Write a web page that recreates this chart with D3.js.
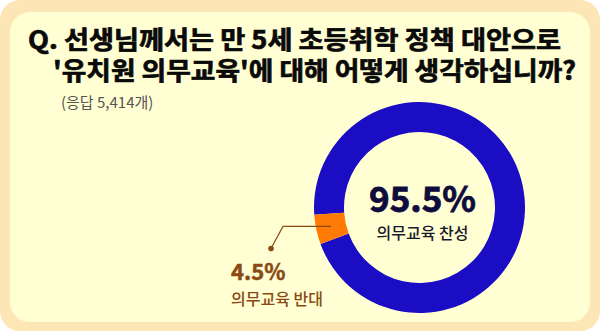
<!DOCTYPE html>
<html>
<head>
<meta charset="utf-8">
<script src="https://cdn.jsdelivr.net/npm/d3@7"></script>
<style>
  html, body { margin: 0; padding: 0; background: #ffffff; }
  svg { display: block; }
  text { font-family: "Noto Sans CJK KR", "Noto Sans", sans-serif; }
</style>
</head>
<body>
<svg id="chart" width="600" height="331"></svg>
<script>
// Survey responses
const titleLines = ["Q. 선생님께서는 만 5세 초등취학 정책 대안으로", "'유치원 의무교육'에 대해 어떻게 생각하십니까?"];
const responseNote = "(응답 5,414개)";
const categories = ["의무교육 찬성", "의무교육 반대"];
const shares = [95.5, 4.5];
const sliceColors = ["#1a0dc4", "#ff7b05"];

const W = 600, H = 331;
const svg = d3.select("#chart");

// Framed card
svg.append("rect").attr("x", 0).attr("y", 0).attr("width", W).attr("height", H)
  .attr("rx", 20).attr("fill", "#fde6b6");
svg.append("rect").attr("x", 10).attr("y", 12).attr("width", W - 20).attr("height", H - 21)
  .attr("rx", 20).attr("fill", "#ffffd3");

// Title (two lines, second line indented past the "Q.")
const titleLayout = [
  { x: 28, y: 49, len: 533 },
  { x: 53, y: 80, len: 523 }
];
svg.append("g").selectAll("text").data(titleLines).join("text")
  .attr("x", (d, i) => titleLayout[i].x)
  .attr("y", (d, i) => titleLayout[i].y)
  .attr("textLength", (d, i) => titleLayout[i].len)
  .attr("lengthAdjust", "spacingAndGlyphs")
  .attr("font-size", 25.5).attr("font-weight", 700).attr("fill", "#0a0a0a")
  .attr("stroke", "#0a0a0a").attr("stroke-width", 0.7)
  .text(d => d);

svg.append("text").attr("x", 61).attr("y", 108)
  .attr("font-size", 15).attr("fill", "#555")
  .text(responseNote);

// Donut
const cx = 419.5, cy = 207.5, rOuter = 105.5, rInner = 75.5;
const data = categories.map((c, i) => ({ label: c, value: shares[i], color: sliceColors[i] }));
const start = -94 * Math.PI / 180;
const pie = d3.pie().value(d => d.value).sort(null)
  .startAngle(start).endAngle(start + 2 * Math.PI);
const arc = d3.arc().innerRadius(rInner).outerRadius(rOuter);
const arcs = pie(data);

const g = svg.append("g").attr("transform", `translate(${cx},${cy})`);
g.selectAll("path").data(arcs).join("path")
  .attr("d", arc).attr("fill", d => d.data.color);

// Center label for the majority slice
g.append("text").attr("x", 3).attr("y", 4)
  .attr("text-anchor", "middle").attr("font-size", 35).attr("font-weight", 700)
  .attr("fill", "#0e0c3c").attr("stroke", "#0e0c3c").attr("stroke-width", 0.8)
  .text(d3.format(".1f")(shares[0]) + "%");
g.append("text").attr("x", 3).attr("y", 31)
  .attr("text-anchor", "middle").attr("font-size", 16).attr("font-weight", 500)
  .attr("fill", "#1a1a2a")
  .text(categories[0]);

// Leader line and label for the minority slice
const brown = "#8a4a14";
const minor = arcs[1];
const [mx, my] = arc.centroid(minor);
const elbowX = mx - 48, dotX = elbowX - 12, dotY = my + 22;
g.append("path")
  .attr("d", `M${mx},${my}H${elbowX}L${dotX},${dotY}`)
  .attr("fill", "none").attr("stroke", brown).attr("stroke-width", 1.2);
g.append("circle").attr("cx", dotX).attr("cy", dotY).attr("r", 2.8).attr("fill", brown);

g.append("text").attr("x", dotX - 40).attr("y", dotY + 32)
  .attr("font-size", 22).attr("font-weight", 700).attr("fill", brown)
  .attr("stroke", brown).attr("stroke-width", 0.5)
  .text(d3.format(".1f")(shares[1]) + "%");
g.append("text").attr("x", dotX - 40).attr("y", dotY + 57)
  .attr("font-size", 16).attr("font-weight", 500).attr("fill", brown)
  .text(categories[1]);
</script>
</body>
</html>
